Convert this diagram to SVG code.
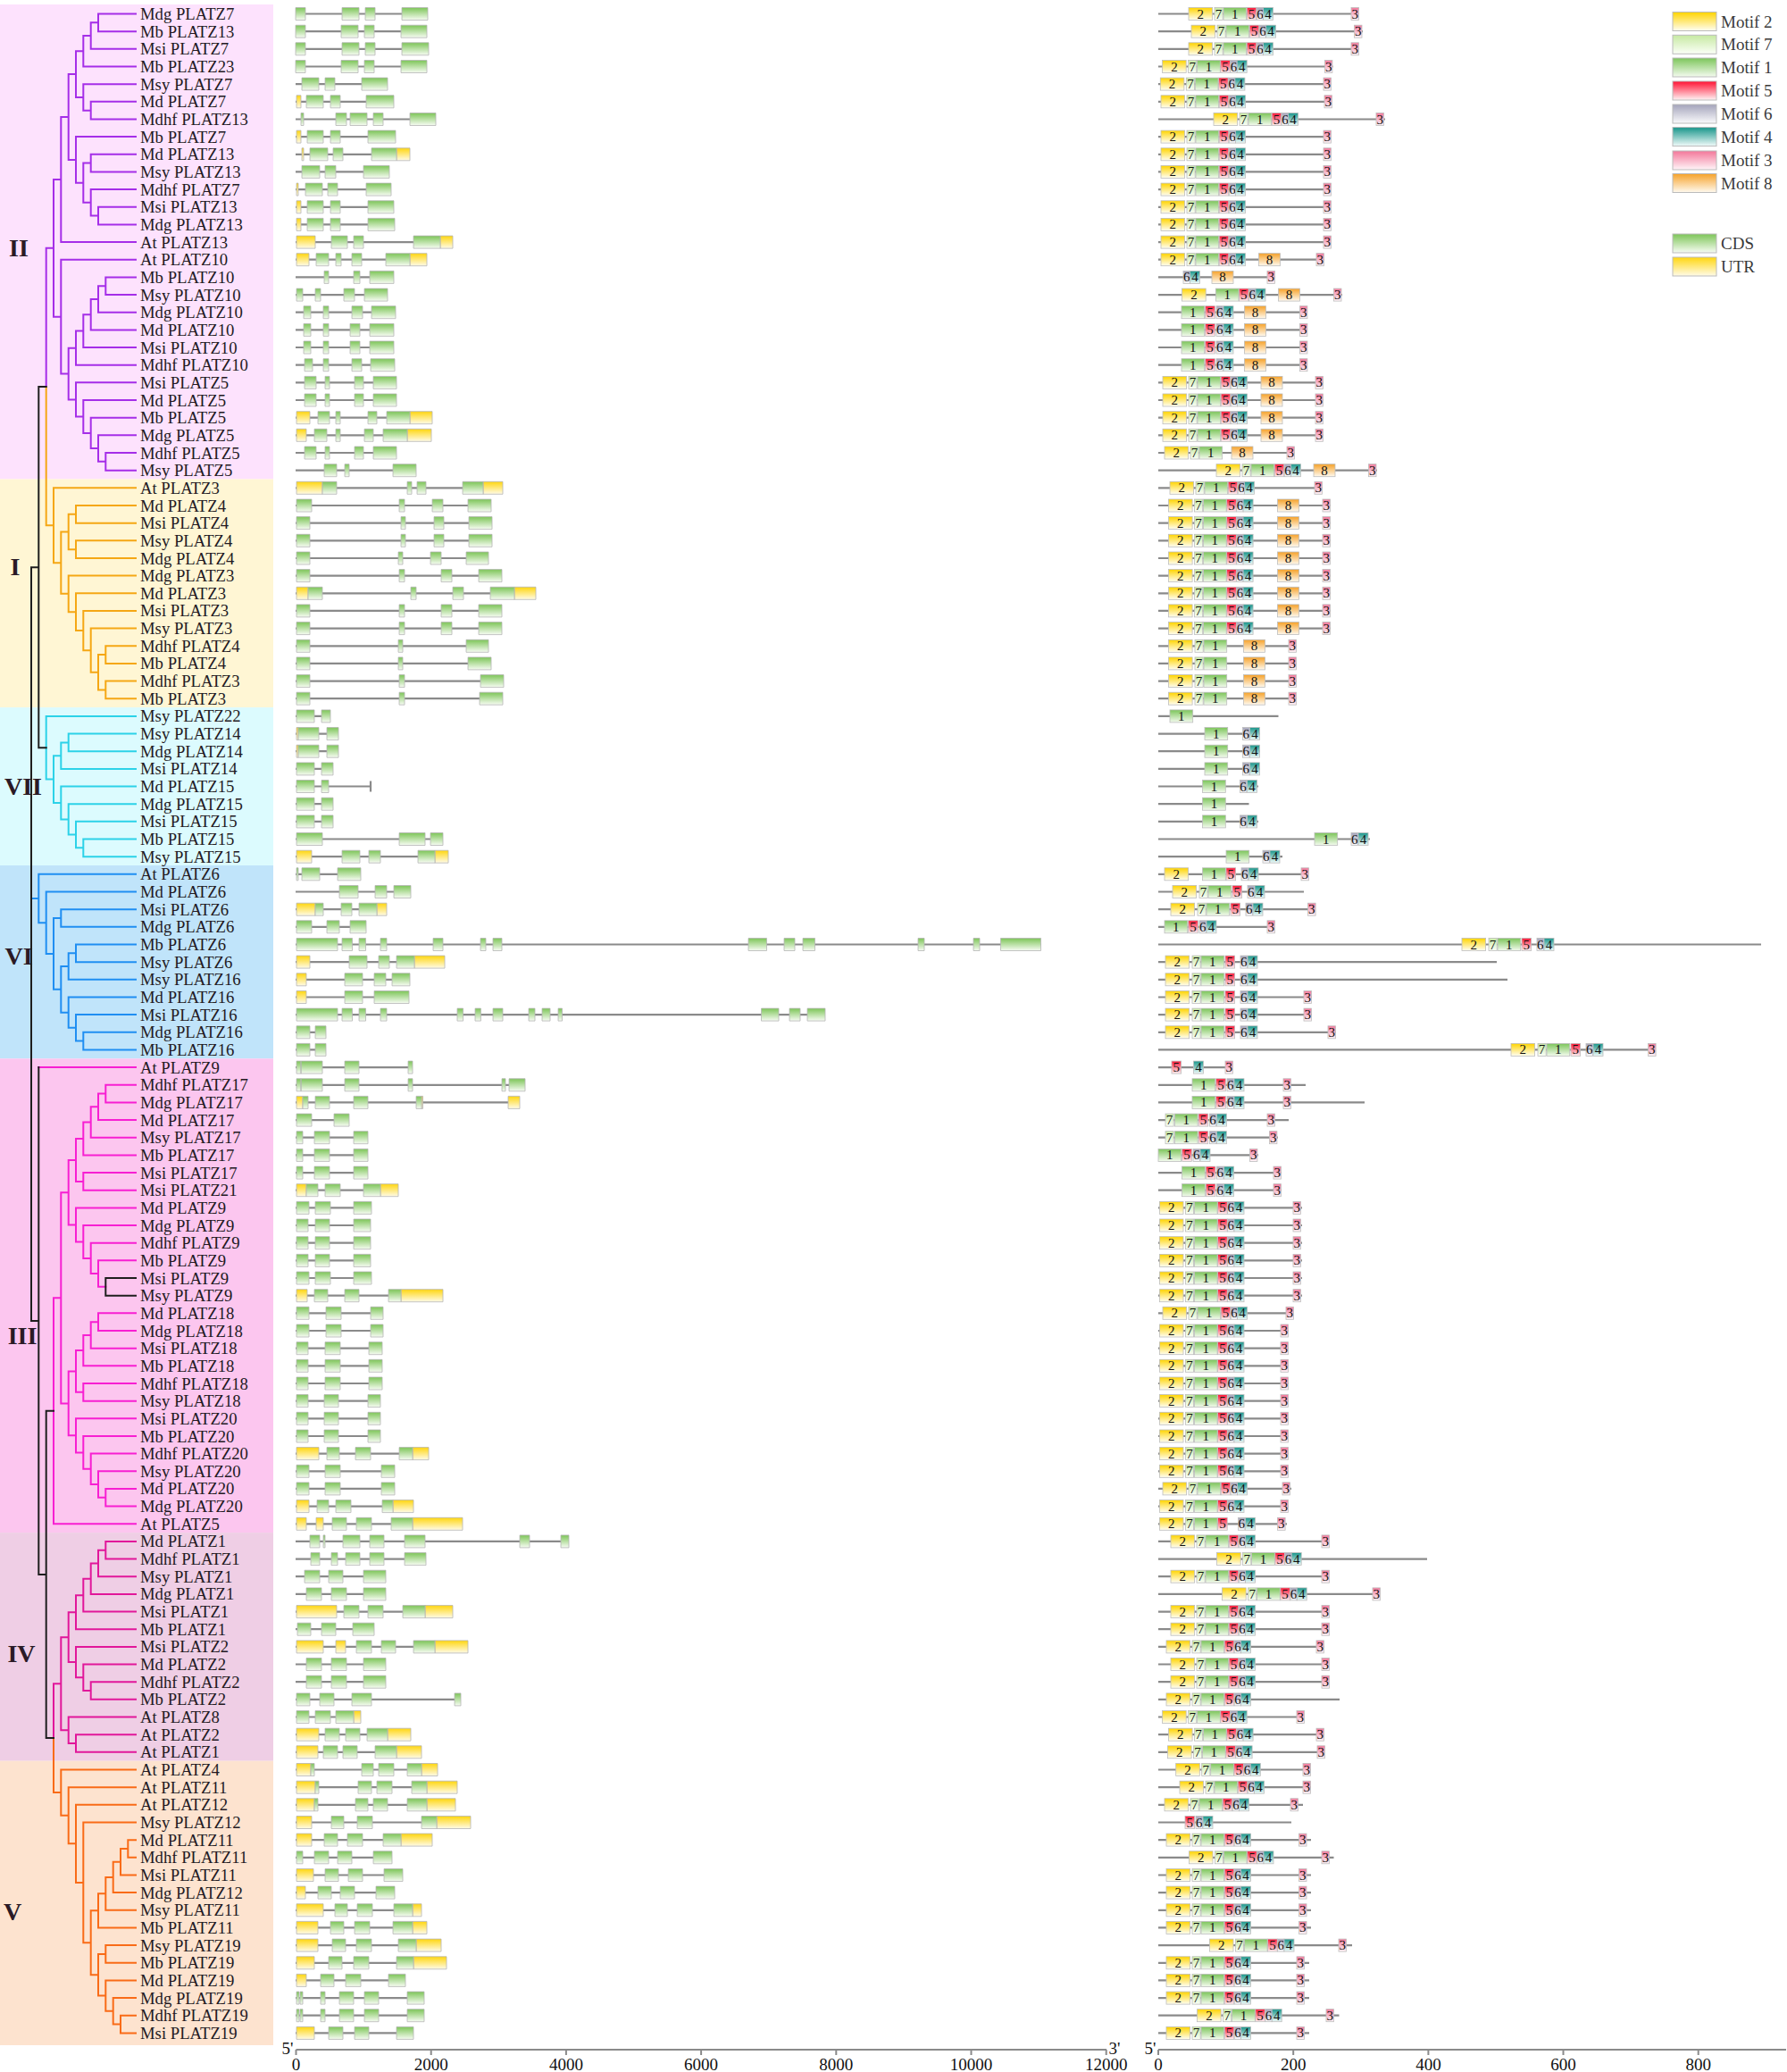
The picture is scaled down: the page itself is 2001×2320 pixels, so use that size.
<svg xmlns="http://www.w3.org/2000/svg" xmlns:xlink="http://www.w3.org/1999/xlink" width="2001" height="2320" viewBox="0 0 2001 2320">
<style>
.l{stroke:#8a8a8a;stroke-width:2.2;fill:none}
.c{fill:url(#gc);stroke:#b5b5b5;stroke-width:.8}
.u{fill:url(#gu);stroke:#b5b5b5;stroke-width:.8}
.k{stroke:#bdbdbd;stroke-width:.8}
.rows text{font-family:"Liberation Serif","Times New Roman",serif;font-size:18.7px;fill:#231a23}
text.mt{font-family:"Liberation Serif","Times New Roman",serif;font-size:15px;fill:#111;text-anchor:middle}
#tree path{fill:none;stroke-width:2;vector-effect:non-scaling-stroke;stroke-linecap:square}
.cl text{font-family:"Liberation Serif","Times New Roman",serif;font-size:28px;font-weight:bold;fill:#2a1a26;text-anchor:middle}
.ax text{font-family:"Liberation Serif","Times New Roman",serif;font-size:19px;fill:#111;text-anchor:middle}
.lg text{font-family:"Liberation Serif","Times New Roman",serif;font-size:19px;fill:#3a3a3a}
</style>
<defs>
<linearGradient id="gc" x2="0" y2="1"><stop offset="0" stop-color="#7dc558"/><stop offset="1" stop-color="#f7fcf3"/></linearGradient>
<linearGradient id="gu" x2="0" y2="1"><stop offset="0" stop-color="#ffd60f"/><stop offset="1" stop-color="#fffbe8"/></linearGradient>
<linearGradient id="k2" x2="0" y2="1"><stop offset="0" stop-color="#ffd400"/><stop offset="1" stop-color="#fffef4"/></linearGradient>
<linearGradient id="k7" x2="0" y2="1"><stop offset="0" stop-color="#c6e9a2"/><stop offset="1" stop-color="#fbfff7"/></linearGradient>
<linearGradient id="k1" x2="0" y2="1"><stop offset="0" stop-color="#7cc55a"/><stop offset="1" stop-color="#f4fbef"/></linearGradient>
<linearGradient id="k5" x2="0" y2="1"><stop offset="0" stop-color="#ff1233"/><stop offset="1" stop-color="#fff4f5"/></linearGradient>
<linearGradient id="k6" x2="0" y2="1"><stop offset="0" stop-color="#a4a4bb"/><stop offset="1" stop-color="#fafafc"/></linearGradient>
<linearGradient id="k4" x2="0" y2="1"><stop offset="0" stop-color="#17958a"/><stop offset="1" stop-color="#f1fbfa"/></linearGradient>
<linearGradient id="k3" x2="0" y2="1"><stop offset="0" stop-color="#f3779a"/><stop offset="1" stop-color="#fff5f8"/></linearGradient>
<linearGradient id="k8" x2="0" y2="1"><stop offset="0" stop-color="#f6a22a"/><stop offset="1" stop-color="#fffaf0"/></linearGradient>
<g id="M2"><rect class="k" fill="url(#k2)" y="-7" width="26.6" height="14"/><text class="mt" x="13.3" y="5">2</text></g>
<g id="M7"><rect class="k" fill="url(#k7)" y="-7" width="9.2" height="14"/><text class="mt" x="4.6" y="5">7</text></g>
<g id="M1"><rect class="k" fill="url(#k1)" y="-7" width="25.7" height="14"/><text class="mt" x="12.85" y="5">1</text></g>
<g id="M5"><rect class="k" fill="url(#k5)" y="-7" width="10.6" height="14"/><text class="mt" x="5.3" y="5">5</text></g>
<g id="M6"><rect class="k" fill="url(#k6)" y="-7" width="7.4" height="14"/><text class="mt" x="3.7" y="5">6</text></g>
<g id="M4"><rect class="k" fill="url(#k4)" y="-7" width="11" height="14"/><text class="mt" x="5.5" y="5">4</text></g>
<g id="M3"><rect class="k" fill="url(#k3)" y="-7" width="8.5" height="14"/><text class="mt" x="4.25" y="5">3</text></g>
<g id="M8"><rect class="k" fill="url(#k8)" y="-7" width="24" height="14"/><text class="mt" x="12" y="5">8</text></g>
<g id="S"><use href="#M2"/><use href="#M7" x="29"/><use href="#M1" x="39"/><use href="#M5" x="65.2"/><use href="#M6" x="76.2"/><use href="#M4" x="83.6"/></g>
<g id="S2"><use href="#M2"/><use href="#M7" x="30"/><use href="#M1" x="40"/><use href="#M5" x="67"/><use href="#M6" x="84"/><use href="#M4" x="92"/></g>
<g id="T"><use href="#M1"/><use href="#M5" x="26.7"/><use href="#M6" x="39"/><use href="#M4" x="47"/></g>
</defs>
<rect width="2001" height="2320" fill="#fff"/>
<g id="clades">
<rect x="0" y="5" width="306" height="531.5" fill="#fde2fd"/>
<rect x="0" y="536.5" width="306" height="255.6" fill="#fff6d4"/>
<rect x="0" y="792.1" width="306" height="176.9" fill="#dcfbfe"/>
<rect x="0" y="969" width="306" height="216.3" fill="#c0e4fa"/>
<rect x="0" y="1185.3" width="306" height="530.8" fill="#fcc6ef"/>
<rect x="0" y="1716.1" width="306" height="255.6" fill="#efcee5"/>
<rect x="0" y="1971.7" width="306" height="318.3" fill="#fde3cf"/>
</g>
<g class="cl" id="clade-labels">
<text x="21" y="287">II</text>
<text x="17" y="644">I</text>
<text x="26" y="890">VII</text>
<text x="21" y="1080">VI</text>
<text x="25" y="1505">III</text>
<text x="24" y="1861">IV</text>
<text x="14" y="2150">V</text>
</g>
<g id="tree" transform="matrix(1 0 0 19.66 0 15.5)">
<path stroke="#a52ee8" d="M110 0V1M110 0H152M110 1H152M101.7 .5V2M101.7 .5H110M101.7 2H152M93.3 1.25V3M93.3 1.25H101.7M93.3 3H152M101.7 5V6M101.7 5H152M101.7 6H152M93.3 4V5.5M93.3 4H152M93.3 5.5H101.7M85 2.125V4.75M85 2.125H93.3M85 4.75H93.3M101.7 8V9M101.7 8H152M101.7 9H152M110 11V12M110 11H152M110 12H152M101.7 10V11.5M101.7 10H152M101.7 11.5H110M93.3 8.5V10.75M93.3 8.5H101.7M93.3 10.75H101.7M85 7V9.625M85 7H152M85 9.625H93.3M76.7 3.4375V8.3125M76.7 3.4375H85M76.7 8.3125H85M68.3 5.875V13M68.3 5.875H76.7M68.3 13H152M118.3 15V16M118.3 15H152M118.3 16H152M110 15.5V17M110 15.5H118.3M110 17H152M101.7 16.25V18M101.7 16.25H110M101.7 18H152M93.3 17.125V19M93.3 17.125H101.7M93.3 19H152M85 18.0625V20M85 18.0625H93.3M85 20H152M118.3 25V26M118.3 25H152M118.3 26H152M110 24V25.5M110 24H152M110 25.5H118.3M101.7 23V24.75M101.7 23H152M101.7 24.75H110M93.3 22V23.875M93.3 22H152M93.3 23.875H101.7M85 21V22.9375M85 21H152M85 22.9375H93.3M76.7 19.03V21.97M76.7 19.03H85M76.7 21.97H85M68.3 14V20.5M68.3 14H152M68.3 20.5H76.7M60 9.4375V17.25M60 9.4375H68.3M60 17.25H68.3M51.7 13.344V21.238M51.7 13.344H60"/>
<path stroke="#f5a714" d="M85 28V29M85 28H152M85 29H152M85 30V31M85 30H152M85 31H152M76.7 28.5V30.5M76.7 28.5H85M76.7 30.5H85M118.3 36V37M118.3 36H152M118.3 37H152M118.3 38V39M118.3 38H152M118.3 39H152M110 36.5V38.5M110 36.5H118.3M110 38.5H118.3M101.7 35V37.5M101.7 35H152M101.7 37.5H110M93.3 34V36.25M93.3 34H152M93.3 36.25H101.7M85 33V35.125M85 33H152M85 35.125H93.3M76.7 32V34.0625M76.7 32H152M76.7 34.0625H85M68.3 29.5V33.03M68.3 29.5H76.7M68.3 33.03H76.7M60 27V31.266M60 27H152M60 31.266H68.3M51.7 21.238V29.133M51.7 29.133H60"/>
<path stroke="#2cd2e8" d="M76.7 41V42M76.7 41H152M76.7 42H152M68.3 41.5V43M68.3 41.5H76.7M68.3 43H152M93.3 47V48M93.3 47H152M93.3 48H152M85 46V47.5M85 46H152M85 47.5H93.3M76.7 45V46.75M76.7 45H152M76.7 46.75H85M68.3 44V45.875M68.3 44H152M68.3 45.875H76.7M60 42.25V44.94M60 42.25H68.3M60 44.94H68.3M51.7 40V43.594M51.7 40H152M51.7 43.594H60"/>
<path stroke="#1f8ef2" d="M85 53V54M85 53H152M85 54H152M76.7 53.5V55M76.7 53.5H85M76.7 55H152M93.3 58V59M93.3 58H152M93.3 59H152M85 57V58.5M85 57H152M85 58.5H93.3M76.7 56V57.75M76.7 56H152M76.7 57.75H85M68.3 54.25V56.875M68.3 54.25H76.7M68.3 56.875H76.7M68.3 51V52M68.3 51H152M68.3 52H152M60 51.5V55.5625M60 51.5H68.3M60 55.5625H68.3M51.7 50V53.53M51.7 50H152M51.7 53.53H60M43.3 49V51.766M43.3 49H152M43.3 51.766H51.7M35 50.383H43.3"/>
<path stroke="#f71fd2" d="M43.3 60H152M118.3 61V62M118.3 61H152M118.3 62H152M110 61.5V63M110 61.5H118.3M110 63H152M101.7 62.25V64M101.7 62.25H110M101.7 64H152M93.3 63.125V65M93.3 63.125H101.7M93.3 65H152M93.3 66V67M93.3 66H152M93.3 67H152M85 64.0625V66.5M85 64.0625H93.3M85 66.5H93.3M110 71V72.5M110 71H152M110 72.5H118.3M101.7 70V71.75M101.7 70H152M101.7 71.75H110M93.3 69V70.875M93.3 69H152M93.3 70.875H101.7M85 68V69.9375M85 68H152M85 69.9375H93.3M76.7 65.28V68.97M76.7 65.28H85M76.7 68.97H85M110 74V75M110 74H152M110 75H152M101.7 74.5V76M101.7 74.5H110M101.7 76H152M93.3 75.25V77M93.3 75.25H101.7M93.3 77H152M93.3 78V79M93.3 78H152M93.3 79H152M85 76.125V78.5M85 76.125H93.3M85 78.5H93.3M118.3 84V85M118.3 84H152M118.3 85H152M110 83V84.5M110 83H152M110 84.5H118.3M101.7 82V83.75M101.7 82H152M101.7 83.75H110M93.3 81V82.875M93.3 81H152M93.3 82.875H101.7M85 80V81.9375M85 80H152M85 81.9375H93.3M76.7 77.3125V80.97M76.7 77.3125H85M76.7 80.97H85M68.3 67.125V79.14M68.3 67.125H76.7M68.3 79.14H76.7M60 73.133V86M60 73.133H68.3M60 86H152"/>
<path stroke="#e1179a" d="M118.3 87V88M118.3 87H152M118.3 88H152M110 87.5V89M110 87.5H118.3M110 89H152M101.7 88.25V90M101.7 88.25H110M101.7 90H152M93.3 89.125V91M93.3 89.125H101.7M93.3 91H152M85 90.0625V92M85 90.0625H93.3M85 92H152M101.7 95V96M101.7 95H152M101.7 96H152M93.3 94V95.5M93.3 94H152M93.3 95.5H101.7M85 93V94.75M85 93H152M85 94.75H93.3M76.7 91.03V93.875M76.7 91.03H85M76.7 93.875H85M85 98V99M85 98H152M85 99H152M76.7 97V98.5M76.7 97H152M76.7 98.5H85M68.3 92.453V97.75M68.3 92.453H76.7M68.3 97.75H76.7M60 95.1V98.2M60 95.1H68.3"/>
<path stroke="#f96b17" d="M143.3 104V105M143.3 104H152M143.3 105H152M135 104.5V106M135 104.5H143.3M135 106H152M126.7 105.25V107M126.7 105.25H135M126.7 107H152M118.3 106.125V108M118.3 106.125H126.7M118.3 108H152M110 107.0625V109M110 107.0625H118.3M110 109H152M118.3 110V111M118.3 110H152M118.3 111H152M135 114V115M135 114H152M135 115H152M126.7 113V114.5M126.7 113H152M126.7 114.5H135M118.3 112V113.75M118.3 112H152M118.3 113.75H126.7M110 110.5V112.875M110 110.5H118.3M110 112.875H118.3M101.7 108.03V111.69M101.7 108.03H110M101.7 111.69H110M93.3 103V109.86M93.3 103H152M93.3 109.86H101.7M85 102V106.43M85 102H152M85 106.43H93.3M76.7 101V104.215M76.7 101H152M76.7 104.215H85M68.3 100V102.607M68.3 100H152M68.3 102.607H76.7M60 98.2V101.3M60 101.3H68.3"/>
<path stroke="#1e1e1e" d="M118.3 72V73M118.3 72H152M118.3 73H152M35 31.518V74.44M35 31.518H43.3M43.3 21.238V41.797M43.3 21.238H51.7M43.3 41.797H51.7M35 74.44H43.3M43.3 60V88.883M43.3 88.883H51.7M51.7 79.566V98.2M51.7 79.566H60M51.7 98.2H60"/>
</g>
<g class="rows" id="genes">
<g id="MdgPLATZ7" transform="translate(0,15.5)"><text x="157" y="6.5">Mdg PLATZ7</text><path class="l" d="M331 0H479M1297 0H1522"/><path class="c" d="M331-7h11v14h-11zM383-7h19v14h-19zM409-7h11v14h-11zM450-7h29v14h-29z"/><use href="#S" x="1331"/><use href="#M3" x="1513"/></g>
<g id="MbPLATZ13" transform="translate(0,35.2)"><text x="157" y="6.5">Mb PLATZ13</text><path class="l" d="M331 0H478M1297 0H1526"/><path class="c" d="M331-7h11v14h-11zM382-7h19v14h-19zM408-7h11v14h-11zM449-7h29v14h-29z"/><use href="#S" x="1334"/><use href="#M3" x="1516.5"/></g>
<g id="MsiPLATZ7" transform="translate(0,54.8)"><text x="157" y="6.5">Msi PLATZ7</text><path class="l" d="M331 0H480M1297 0H1522"/><path class="c" d="M331-7h11v14h-11zM383-7h19v14h-19zM409-7h11v14h-11zM450-7h30v14h-30z"/><use href="#S" x="1331"/><use href="#M3" x="1513"/></g>
<g id="MbPLATZ23" transform="translate(0,74.5)"><text x="157" y="6.5">Mb PLATZ23</text><path class="l" d="M331 0H478M1297 0H1492.6"/><path class="c" d="M331-7h11v14h-11zM382-7h19v14h-19zM408-7h11v14h-11zM449-7h29v14h-29z"/><use href="#S" x="1301.6"/><use href="#M3" x="1483.4"/></g>
<g id="MsyPLATZ7" transform="translate(0,94.1)"><text x="157" y="6.5">Msy PLATZ7</text><path class="l" d="M331 0H434M1297 0H1490.3"/><path class="c" d="M338-7h19v14h-19zM364-7h11v14h-11zM405-7h29v14h-29z"/><use href="#S" x="1299.3"/><use href="#M3" x="1482"/></g>
<g id="MdPLATZ7" transform="translate(0,113.8)"><text x="157" y="6.5">Md PLATZ7</text><path class="l" d="M331 0H441M1297 0H1491"/><path class="u" d="M332-7h5v14h-5z"/><path class="c" d="M343-7h19v14h-19zM370-7h11v14h-11zM410-7h31v14h-31z"/><use href="#S" x="1300"/><use href="#M3" x="1483"/></g>
<g id="MdhfPLATZ13" transform="translate(0,133.5)"><text x="157" y="6.5">Mdhf PLATZ13</text><path class="l" d="M331 0H488M1297 0H1551"/><path class="c" d="M337-7h3v14h-3zM376-7h12v14h-12zM392-7h19v14h-19zM418-7h11v14h-11zM459-7h29v14h-29z"/><use href="#S" x="1359"/><use href="#M3" x="1541"/></g>
<g id="MbPLATZ7" transform="translate(0,153.1)"><text x="157" y="6.5">Mb PLATZ7</text><path class="l" d="M331 0H443M1297 0H1490"/><path class="u" d="M332-7h5v14h-5z"/><path class="c" d="M344-7h18v14h-18zM370-7h11v14h-11zM412-7h31v14h-31z"/><use href="#S" x="1300"/><use href="#M3" x="1482"/></g>
<g id="MdPLATZ13" transform="translate(0,172.8)"><text x="157" y="6.5">Md PLATZ13</text><path class="l" d="M331 0H459M1297 0H1490"/><path class="u" d="M338-7h2v14h-2zM444-7h15v14h-15z"/><path class="c" d="M347-7h20v14h-20zM373-7h11v14h-11zM416-7h28v14h-28z"/><use href="#S" x="1300"/><use href="#M3" x="1482"/></g>
<g id="MsyPLATZ13" transform="translate(0,192.4)"><text x="157" y="6.5">Msy PLATZ13</text><path class="l" d="M331 0H436M1297 0H1490"/><path class="c" d="M338-7h20v14h-20zM364-7h12v14h-12zM407-7h29v14h-29z"/><use href="#S" x="1300"/><use href="#M3" x="1482"/></g>
<g id="MdhfPLATZ7" transform="translate(0,212.1)"><text x="157" y="6.5">Mdhf PLATZ7</text><path class="l" d="M331 0H438M1297 0H1490"/><path class="u" d="M332-7h2v14h-2z"/><path class="c" d="M342-7h19v14h-19zM367-7h11v14h-11zM410-7h28v14h-28z"/><use href="#S" x="1300"/><use href="#M3" x="1482"/></g>
<g id="MsiPLATZ13" transform="translate(0,231.8)"><text x="157" y="6.5">Msi PLATZ13</text><path class="l" d="M331 0H441M1297 0H1490"/><path class="u" d="M332-7h5v14h-5z"/><path class="c" d="M344-7h18v14h-18zM370-7h11v14h-11zM412-7h29v14h-29z"/><use href="#S" x="1300"/><use href="#M3" x="1482"/></g>
<g id="MdgPLATZ13" transform="translate(0,251.4)"><text x="157" y="6.5">Mdg PLATZ13</text><path class="l" d="M331 0H442M1297 0H1490"/><path class="u" d="M332-7h5v14h-5z"/><path class="c" d="M344-7h18v14h-18zM370-7h11v14h-11zM412-7h30v14h-30z"/><use href="#S" x="1300"/><use href="#M3" x="1482"/></g>
<g id="AtPLATZ13" transform="translate(0,271.1)"><text x="157" y="6.5">At PLATZ13</text><path class="l" d="M331 0H507M1297 0H1490"/><path class="u" d="M332-7h21v14h-21zM493-7h14v14h-14z"/><path class="c" d="M371-7h18v14h-18zM396-7h11v14h-11zM463-7h30v14h-30z"/><use href="#S" x="1300"/><use href="#M3" x="1482"/></g>
<g id="AtPLATZ10" transform="translate(0,290.7)"><text x="157" y="6.5">At PLATZ10</text><path class="l" d="M331 0H478M1297 0H1483"/><path class="u" d="M332-7h14v14h-14zM459-7h19v14h-19z"/><path class="c" d="M354-7h14v14h-14zM376-7h6v14h-6zM394-7h11v14h-11zM432-7h27v14h-27z"/><use href="#S" x="1300"/><use href="#M8" x="1409.5"/><use href="#M3" x="1474"/></g>
<g id="MbPLATZ10" transform="translate(0,310.4)"><text x="157" y="6.5">Mb PLATZ10</text><path class="l" d="M331 0H441M1297 0H1428"/><path class="c" d="M363-7h5v14h-5zM396-7h7v14h-7zM414-7h27v14h-27z"/><use href="#M6" x="1325"/><use href="#M4" x="1332.4"/><use href="#M8" x="1357"/><use href="#M3" x="1419"/></g>
<g id="MsyPLATZ10" transform="translate(0,330.1)"><text x="157" y="6.5">Msy PLATZ10</text><path class="l" d="M331 0H434M1297 0H1503"/><path class="c" d="M332-7h7v14h-7zM353-7h6v14h-6zM385-7h12v14h-12zM408-7h26v14h-26z"/><use href="#M2" x="1323.6"/><use href="#M1" x="1361.3"/><use href="#M5" x="1387.4"/><use href="#M6" x="1398.5"/><use href="#M4" x="1406"/><use href="#M8" x="1431.5"/><use href="#M3" x="1493.5"/></g>
<g id="MdgPLATZ10" transform="translate(0,349.7)"><text x="157" y="6.5">Mdg PLATZ10</text><path class="l" d="M331 0H443M1297 0H1464"/><path class="c" d="M340-7h8v14h-8zM362-7h6v14h-6zM394-7h12v14h-12zM416-7h27v14h-27z"/><use href="#T" x="1323"/><use href="#M8" x="1393.4"/><use href="#M3" x="1455.4"/></g>
<g id="MdPLATZ10" transform="translate(0,369.4)"><text x="157" y="6.5">Md PLATZ10</text><path class="l" d="M331 0H441M1297 0H1464"/><path class="c" d="M340-7h8v14h-8zM362-7h6v14h-6zM392-7h11v14h-11zM414-7h27v14h-27z"/><use href="#T" x="1323"/><use href="#M8" x="1393.4"/><use href="#M3" x="1455.4"/></g>
<g id="MsiPLATZ10" transform="translate(0,389)"><text x="157" y="6.5">Msi PLATZ10</text><path class="l" d="M331 0H441M1297 0H1464"/><path class="c" d="M340-7h8v14h-8zM362-7h6v14h-6zM392-7h11v14h-11zM414-7h27v14h-27z"/><use href="#T" x="1323"/><use href="#M8" x="1393.4"/><use href="#M3" x="1455.4"/></g>
<g id="MdhfPLATZ10" transform="translate(0,408.7)"><text x="157" y="6.5">Mdhf PLATZ10</text><path class="l" d="M331 0H442M1297 0H1464"/><path class="c" d="M341-7h9v14h-9zM362-7h6v14h-6zM394-7h11v14h-11zM415-7h27v14h-27z"/><use href="#T" x="1323"/><use href="#M8" x="1393.4"/><use href="#M3" x="1455.4"/></g>
<g id="MsiPLATZ5" transform="translate(0,428.4)"><text x="157" y="6.5">Msi PLATZ5</text><path class="l" d="M331 0H444M1297 0H1482"/><path class="c" d="M341-7h13v14h-13zM364-7h5v14h-5zM397-7h10v14h-10zM418-7h26v14h-26z"/><use href="#S" x="1302"/><use href="#M8" x="1412"/><use href="#M3" x="1473"/></g>
<g id="MdPLATZ5" transform="translate(0,448)"><text x="157" y="6.5">Md PLATZ5</text><path class="l" d="M331 0H444M1297 0H1482"/><path class="c" d="M341-7h13v14h-13zM364-7h5v14h-5zM397-7h10v14h-10zM418-7h26v14h-26z"/><use href="#S" x="1302"/><use href="#M8" x="1412"/><use href="#M3" x="1473"/></g>
<g id="MbPLATZ5" transform="translate(0,467.7)"><text x="157" y="6.5">Mb PLATZ5</text><path class="l" d="M331 0H484M1297 0H1482"/><path class="u" d="M332-7h15v14h-15zM459-7h25v14h-25z"/><path class="c" d="M356-7h13v14h-13zM376-7h5v14h-5zM412-7h10v14h-10zM433-7h26v14h-26z"/><use href="#S" x="1302"/><use href="#M8" x="1412"/><use href="#M3" x="1473"/></g>
<g id="MdgPLATZ5" transform="translate(0,487.3)"><text x="157" y="6.5">Mdg PLATZ5</text><path class="l" d="M331 0H483M1297 0H1482"/><path class="u" d="M332-7h11v14h-11zM456-7h27v14h-27z"/><path class="c" d="M352-7h14v14h-14zM376-7h5v14h-5zM408-7h10v14h-10zM429-7h27v14h-27z"/><use href="#S" x="1302"/><use href="#M8" x="1412"/><use href="#M3" x="1473"/></g>
<g id="MdhfPLATZ5" transform="translate(0,507)"><text x="157" y="6.5">Mdhf PLATZ5</text><path class="l" d="M331 0H444M1297 0H1450"/><path class="c" d="M341-7h13v14h-13zM364-7h5v14h-5zM397-7h10v14h-10zM418-7h26v14h-26z"/><use href="#M2" x="1304"/><use href="#M7" x="1333"/><use href="#M1" x="1343"/><use href="#M8" x="1379"/><use href="#M3" x="1441"/></g>
<g id="MsyPLATZ5" transform="translate(0,526.7)"><text x="157" y="6.5">Msy PLATZ5</text><path class="l" d="M331 0H466M1297 0H1542"/><path class="c" d="M363-7h14v14h-14zM386-7h5v14h-5zM440-7h26v14h-26z"/><use href="#S" x="1362"/><use href="#M8" x="1471"/><use href="#M3" x="1532.5"/></g>
<g id="AtPLATZ3" transform="translate(0,546.3)"><text x="157" y="6.5">At PLATZ3</text><path class="l" d="M331 0H563M1297 0H1481"/><path class="u" d="M332-7h29v14h-29zM541-7h22v14h-22z"/><path class="c" d="M361-7h16v14h-16zM456-7h5v14h-5zM467-7h10v14h-10zM518-7h23v14h-23z"/><use href="#S" x="1310"/><use href="#M3" x="1472"/></g>
<g id="MdPLATZ4" transform="translate(0,566)"><text x="157" y="6.5">Md PLATZ4</text><path class="l" d="M331 0H550M1297 0H1490"/><path class="c" d="M332-7h17v14h-17zM447-7h6v14h-6zM484-7h12v14h-12zM524-7h26v14h-26z"/><use href="#S" x="1308.5"/><use href="#M8" x="1430.6"/><use href="#M3" x="1481"/></g>
<g id="MsiPLATZ4" transform="translate(0,585.6)"><text x="157" y="6.5">Msi PLATZ4</text><path class="l" d="M331 0H551M1297 0H1490"/><path class="c" d="M332-7h15v14h-15zM449-7h5v14h-5zM486-7h11v14h-11zM525-7h26v14h-26z"/><use href="#S" x="1308.5"/><use href="#M8" x="1430.6"/><use href="#M3" x="1481"/></g>
<g id="MsyPLATZ4" transform="translate(0,605.3)"><text x="157" y="6.5">Msy PLATZ4</text><path class="l" d="M331 0H551M1297 0H1490"/><path class="c" d="M332-7h15v14h-15zM449-7h5v14h-5zM486-7h11v14h-11zM525-7h26v14h-26z"/><use href="#S" x="1308.5"/><use href="#M8" x="1430.6"/><use href="#M3" x="1481"/></g>
<g id="MdgPLATZ4" transform="translate(0,625)"><text x="157" y="6.5">Mdg PLATZ4</text><path class="l" d="M331 0H547M1297 0H1490"/><path class="c" d="M332-7h15v14h-15zM446-7h5v14h-5zM482-7h12v14h-12zM522-7h25v14h-25z"/><use href="#S" x="1308.5"/><use href="#M8" x="1430.6"/><use href="#M3" x="1481"/></g>
<g id="MdgPLATZ3" transform="translate(0,644.6)"><text x="157" y="6.5">Mdg PLATZ3</text><path class="l" d="M331 0H562M1297 0H1490"/><path class="c" d="M332-7h15v14h-15zM447-7h6v14h-6zM494-7h12v14h-12zM536-7h26v14h-26z"/><use href="#S" x="1308.5"/><use href="#M8" x="1430.6"/><use href="#M3" x="1481"/></g>
<g id="MdPLATZ3" transform="translate(0,664.3)"><text x="157" y="6.5">Md PLATZ3</text><path class="l" d="M331 0H600M1297 0H1490"/><path class="u" d="M332-7h13v14h-13zM576-7h24v14h-24z"/><path class="c" d="M345-7h16v14h-16zM460-7h6v14h-6zM507-7h12v14h-12zM549-7h27v14h-27z"/><use href="#S" x="1308.5"/><use href="#M8" x="1430.6"/><use href="#M3" x="1481"/></g>
<g id="MsiPLATZ3" transform="translate(0,683.9)"><text x="157" y="6.5">Msi PLATZ3</text><path class="l" d="M331 0H562M1297 0H1490"/><path class="c" d="M332-7h15v14h-15zM447-7h6v14h-6zM494-7h12v14h-12zM536-7h26v14h-26z"/><use href="#S" x="1308.5"/><use href="#M8" x="1430.6"/><use href="#M3" x="1481"/></g>
<g id="MsyPLATZ3" transform="translate(0,703.6)"><text x="157" y="6.5">Msy PLATZ3</text><path class="l" d="M331 0H562M1297 0H1490"/><path class="c" d="M332-7h15v14h-15zM447-7h6v14h-6zM494-7h12v14h-12zM536-7h26v14h-26z"/><use href="#S" x="1308.5"/><use href="#M8" x="1430.6"/><use href="#M3" x="1481"/></g>
<g id="MdhfPLATZ4" transform="translate(0,723.3)"><text x="157" y="6.5">Mdhf PLATZ4</text><path class="l" d="M331 0H547M1297 0H1452"/><path class="c" d="M332-7h15v14h-15zM446-7h5v14h-5zM522-7h25v14h-25z"/><use href="#M2" x="1308.5"/><use href="#M7" x="1338"/><use href="#M1" x="1348"/><use href="#M8" x="1392.5"/><use href="#M3" x="1443"/></g>
<g id="MbPLATZ4" transform="translate(0,742.9)"><text x="157" y="6.5">Mb PLATZ4</text><path class="l" d="M331 0H550M1297 0H1452"/><path class="c" d="M332-7h15v14h-15zM446-7h5v14h-5zM524-7h26v14h-26z"/><use href="#M2" x="1308.5"/><use href="#M7" x="1338"/><use href="#M1" x="1348"/><use href="#M8" x="1392.5"/><use href="#M3" x="1443"/></g>
<g id="MdhfPLATZ3" transform="translate(0,762.6)"><text x="157" y="6.5">Mdhf PLATZ3</text><path class="l" d="M331 0H564M1297 0H1452"/><path class="c" d="M332-7h15v14h-15zM447-7h6v14h-6zM538-7h26v14h-26z"/><use href="#M2" x="1308.5"/><use href="#M7" x="1338"/><use href="#M1" x="1348"/><use href="#M8" x="1392.5"/><use href="#M3" x="1443"/></g>
<g id="MbPLATZ3" transform="translate(0,782.2)"><text x="157" y="6.5">Mb PLATZ3</text><path class="l" d="M331 0H563M1297 0H1452"/><path class="c" d="M332-7h15v14h-15zM447-7h6v14h-6zM537-7h26v14h-26z"/><use href="#M2" x="1308.5"/><use href="#M7" x="1338"/><use href="#M1" x="1348"/><use href="#M8" x="1392.5"/><use href="#M3" x="1443"/></g>
<g id="MsyPLATZ22" transform="translate(0,801.9)"><text x="157" y="6.5">Msy PLATZ22</text><path class="l" d="M331 0H370M1297 0H1431.5"/><path class="c" d="M332-7h20v14h-20zM360-7h10v14h-10z"/><use href="#M1" x="1310"/></g>
<g id="MsyPLATZ14" transform="translate(0,821.6)"><text x="157" y="6.5">Msy PLATZ14</text><path class="l" d="M331 0H379M1297 0H1411"/><path class="u" d="M332-7h2v14h-2z"/><path class="c" d="M334-7h23v14h-23zM366-7h13v14h-13z"/><use href="#M1" x="1349"/><use href="#M6" x="1391.6"/><use href="#M4" x="1399.5"/></g>
<g id="MdgPLATZ14" transform="translate(0,841.2)"><text x="157" y="6.5">Mdg PLATZ14</text><path class="l" d="M331 0H379M1297 0H1411"/><path class="u" d="M332-7h2v14h-2z"/><path class="c" d="M334-7h23v14h-23zM366-7h13v14h-13z"/><use href="#M1" x="1349"/><use href="#M6" x="1391.6"/><use href="#M4" x="1399.5"/></g>
<g id="MsiPLATZ14" transform="translate(0,860.9)"><text x="157" y="6.5">Msi PLATZ14</text><path class="l" d="M331 0H373M1297 0H1411"/><path class="c" d="M332-7h20v14h-20zM360-7h13v14h-13z"/><use href="#M1" x="1349"/><use href="#M6" x="1391.6"/><use href="#M4" x="1399.5"/></g>
<g id="MdPLATZ15" transform="translate(0,880.5)"><text x="157" y="6.5">Md PLATZ15</text><path class="l" d="M331 0H415M415-6V6M1297 0H1409"/><path class="c" d="M332-7h20v14h-20zM360-7h8v14h-8z"/><use href="#M1" x="1346.6"/><use href="#M6" x="1388.4"/><use href="#M4" x="1396.5"/></g>
<g id="MdgPLATZ15" transform="translate(0,900.2)"><text x="157" y="6.5">Mdg PLATZ15</text><path class="l" d="M331 0H373M1297 0H1398.5"/><path class="c" d="M332-7h20v14h-20zM360-7h13v14h-13z"/><use href="#M1" x="1346.6"/></g>
<g id="MsiPLATZ15" transform="translate(0,919.9)"><text x="157" y="6.5">Msi PLATZ15</text><path class="l" d="M331 0H373M1297 0H1409"/><path class="c" d="M332-7h20v14h-20zM360-7h13v14h-13z"/><use href="#M1" x="1346.6"/><use href="#M6" x="1388.4"/><use href="#M4" x="1396.5"/></g>
<g id="MbPLATZ15" transform="translate(0,939.5)"><text x="157" y="6.5">Mb PLATZ15</text><path class="l" d="M331 0H496M1297 0H1534"/><path class="c" d="M332-7h29v14h-29zM447-7h29v14h-29zM482-7h14v14h-14z"/><use href="#M1" x="1472"/><use href="#M6" x="1513"/><use href="#M4" x="1521"/></g>
<g id="MsyPLATZ15" transform="translate(0,959.2)"><text x="157" y="6.5">Msy PLATZ15</text><path class="l" d="M331 0H502M1297 0H1436"/><path class="u" d="M332-7h17v14h-17zM487-7h15v14h-15z"/><path class="c" d="M383-7h20v14h-20zM413-7h13v14h-13zM468-7h19v14h-19z"/><use href="#M1" x="1373"/><use href="#M6" x="1414"/><use href="#M4" x="1422"/></g>
<g id="AtPLATZ6" transform="translate(0,978.8)"><text x="157" y="6.5">At PLATZ6</text><path class="l" d="M331 0H404M1297 0H1465"/><path class="c" d="M332-7h2v14h-2zM338-7h20v14h-20zM378-7h26v14h-26z"/><use href="#M2" x="1304"/><use href="#M1" x="1346.6"/><use href="#M5" x="1373"/><use href="#M6" x="1390"/><use href="#M4" x="1398"/><use href="#M3" x="1457"/></g>
<g id="MdPLATZ6" transform="translate(0,998.5)"><text x="157" y="6.5">Md PLATZ6</text><path class="l" d="M331 0H460M1297 0H1460"/><path class="c" d="M380-7h21v14h-21zM420-7h13v14h-13zM441-7h19v14h-19z"/><use href="#S2" x="1313"/></g>
<g id="MsiPLATZ6" transform="translate(0,1018.2)"><text x="157" y="6.5">Msi PLATZ6</text><path class="l" d="M331 0H433M1297 0H1473"/><path class="u" d="M332-7h21v14h-21zM422-7h11v14h-11z"/><path class="c" d="M353-7h9v14h-9zM382-7h12v14h-12zM402-7h20v14h-20z"/><use href="#S2" x="1311"/><use href="#M3" x="1464.6"/></g>
<g id="MdgPLATZ6" transform="translate(0,1037.8)"><text x="157" y="6.5">Mdg PLATZ6</text><path class="l" d="M331 0H410M1297 0H1427"/><path class="c" d="M332-7h17v14h-17zM366-7h14v14h-14zM392-7h18v14h-18z"/><use href="#T" x="1304"/><use href="#M3" x="1419"/></g>
<g id="MbPLATZ6" transform="translate(0,1057.5)"><text x="157" y="6.5">Mb PLATZ6</text><path class="l" d="M331 0H1165.5M1297 0H1972"/><path class="c" d="M332-7h46v14h-46zM383-7h11.5v14h-11.5zM402-7h7.5v14h-7.5zM426-7h7v14h-7zM485-7h11v14h-11zM538-7h6v14h-6zM552-7h10v14h-10zM838-7h20.5v14h-20.5zM878-7h12v14h-12zM899-7h13.5v14h-13.5zM1028-7h7v14h-7zM1090-7h7v14h-7zM1120.5-7h45v14h-45z"/><use href="#S2" x="1637"/></g>
<g id="MsyPLATZ6" transform="translate(0,1077.1)"><text x="157" y="6.5">Msy PLATZ6</text><path class="l" d="M331 0H498M1297 0H1676"/><path class="u" d="M332-7h15v14h-15zM464-7h34v14h-34z"/><path class="c" d="M391-7h20v14h-20zM424-7h12v14h-12zM444-7h20v14h-20z"/><use href="#S2" x="1305"/></g>
<g id="MsyPLATZ16" transform="translate(0,1096.8)"><text x="157" y="6.5">Msy PLATZ16</text><path class="l" d="M331 0H459M1297 0H1688"/><path class="u" d="M332-7h11v14h-11z"/><path class="c" d="M386-7h20v14h-20zM419-7h13v14h-13zM439-7h20v14h-20z"/><use href="#S2" x="1305"/></g>
<g id="MdPLATZ16" transform="translate(0,1116.5)"><text x="157" y="6.5">Md PLATZ16</text><path class="l" d="M331 0H458M1297 0H1469"/><path class="u" d="M332-7h11v14h-11z"/><path class="c" d="M386-7h20v14h-20zM419-7h39v14h-39z"/><use href="#S2" x="1305"/><use href="#M3" x="1460"/></g>
<g id="MsiPLATZ16" transform="translate(0,1136.1)"><text x="157" y="6.5">Msi PLATZ16</text><path class="l" d="M331 0H924M1297 0H1469"/><path class="c" d="M332-7h46v14h-46zM383-7h11.5v14h-11.5zM402-7h7.5v14h-7.5zM426-7h7v14h-7zM512-7h6.6v14h-6.6zM532-7h6.4v14h-6.4zM552-7h11v14h-11zM592-7h7v14h-7zM607-7h9v14h-9zM625-7h4.5v14h-4.5zM852.5-7h19.5v14h-19.5zM884-7h12v14h-12zM904-7h20v14h-20z"/><use href="#S2" x="1305"/><use href="#M3" x="1460"/></g>
<g id="MdgPLATZ16" transform="translate(0,1155.8)"><text x="157" y="6.5">Mdg PLATZ16</text><path class="l" d="M331 0H365M1297 0H1496"/><path class="c" d="M332-7h15v14h-15zM353-7h12v14h-12z"/><use href="#S2" x="1305"/><use href="#M3" x="1487"/></g>
<g id="MbPLATZ16" transform="translate(0,1175.4)"><text x="157" y="6.5">Mb PLATZ16</text><path class="l" d="M331 0H365M1297 0H1854"/><path class="c" d="M332-7h15v14h-15zM353-7h12v14h-12z"/><use href="#S2" x="1692"/><use href="#M3" x="1845.6"/></g>
<g id="AtPLATZ9" transform="translate(0,1195.1)"><text x="157" y="6.5">At PLATZ9</text><path class="l" d="M331 0H462M1297 0H1380"/><path class="c" d="M332-7h5v14h-5zM337-7h24v14h-24zM386-7h16v14h-16zM457-7h5v14h-5z"/><use href="#M5" x="1312"/><use href="#M4" x="1336.5"/><use href="#M3" x="1372"/></g>
<g id="MdhfPLATZ17" transform="translate(0,1214.8)"><text x="157" y="6.5">Mdhf PLATZ17</text><path class="l" d="M331 0H588M1297 0H1462"/><path class="c" d="M332-7h5v14h-5zM337-7h24v14h-24zM386-7h16v14h-16zM457-7h5v14h-5zM562-7h4v14h-4zM570-7h18v14h-18z"/><use href="#T" x="1335"/><use href="#M3" x="1437"/></g>
<g id="MdgPLATZ17" transform="translate(0,1234.4)"><text x="157" y="6.5">Mdg PLATZ17</text><path class="l" d="M331 0H582M1297 0H1528"/><path class="u" d="M332-7h7v14h-7zM472-7h1.5v14h-1.5zM569-7h13v14h-13z"/><path class="c" d="M339-7h6v14h-6zM353-7h16v14h-16zM396-7h16v14h-16zM466-7h6v14h-6z"/><use href="#T" x="1335"/><use href="#M3" x="1437"/></g>
<g id="MdPLATZ17" transform="translate(0,1254.1)"><text x="157" y="6.5">Md PLATZ17</text><path class="l" d="M331 0H391M1297 0H1443"/><path class="c" d="M332-7h17v14h-17zM374-7h17v14h-17z"/><use href="#M7" x="1305"/><use href="#T" x="1315.4"/><use href="#M3" x="1419"/></g>
<g id="MsyPLATZ17" transform="translate(0,1273.7)"><text x="157" y="6.5">Msy PLATZ17</text><path class="l" d="M331 0H412M1297 0H1431"/><path class="c" d="M332-7h7v14h-7zM352-7h17v14h-17zM396-7h16v14h-16z"/><use href="#M7" x="1305"/><use href="#T" x="1315.4"/><use href="#M3" x="1421.4"/></g>
<g id="MbPLATZ17" transform="translate(0,1293.4)"><text x="157" y="6.5">Mb PLATZ17</text><path class="l" d="M331 0H412M1297 0H1409"/><path class="c" d="M332-7h7v14h-7zM352-7h17v14h-17zM396-7h16v14h-16z"/><use href="#T" x="1297"/><use href="#M3" x="1399.4"/></g>
<g id="MsiPLATZ17" transform="translate(0,1313.1)"><text x="157" y="6.5">Msi PLATZ17</text><path class="l" d="M331 0H412M1297 0H1435"/><path class="c" d="M332-7h7v14h-7zM352-7h17v14h-17zM396-7h16v14h-16z"/><use href="#T" x="1323.6"/><use href="#M3" x="1426"/></g>
<g id="MsiPLATZ21" transform="translate(0,1332.7)"><text x="157" y="6.5">Msi PLATZ21</text><path class="l" d="M331 0H446M1297 0H1435"/><path class="u" d="M332-7h11v14h-11zM426-7h20v14h-20z"/><path class="c" d="M343-7h13v14h-13zM364-7h17v14h-17zM407-7h19v14h-19z"/><use href="#T" x="1323.6"/><use href="#M3" x="1426"/></g>
<g id="MdPLATZ9" transform="translate(0,1352.4)"><text x="157" y="6.5">Md PLATZ9</text><path class="l" d="M331 0H416M1297 0H1458"/><path class="c" d="M332-7h14v14h-14zM353-7h17v14h-17zM396-7h20v14h-20z"/><use href="#S" x="1298.4"/><use href="#M3" x="1448"/></g>
<g id="MdgPLATZ9" transform="translate(0,1372)"><text x="157" y="6.5">Mdg PLATZ9</text><path class="l" d="M331 0H415M1297 0H1458"/><path class="c" d="M332-7h13v14h-13zM353-7h16v14h-16zM396-7h19v14h-19z"/><use href="#S" x="1298.4"/><use href="#M3" x="1448"/></g>
<g id="MdhfPLATZ9" transform="translate(0,1391.7)"><text x="157" y="6.5">Mdhf PLATZ9</text><path class="l" d="M331 0H415M1297 0H1458"/><path class="c" d="M332-7h13v14h-13zM353-7h16v14h-16zM396-7h19v14h-19z"/><use href="#S" x="1298.4"/><use href="#M3" x="1448"/></g>
<g id="MbPLATZ9" transform="translate(0,1411.4)"><text x="157" y="6.5">Mb PLATZ9</text><path class="l" d="M331 0H415M1297 0H1458"/><path class="c" d="M332-7h13v14h-13zM353-7h16v14h-16zM396-7h19v14h-19z"/><use href="#S" x="1298.4"/><use href="#M3" x="1448"/></g>
<g id="MsiPLATZ9" transform="translate(0,1431)"><text x="157" y="6.5">Msi PLATZ9</text><path class="l" d="M331 0H416M1297 0H1458"/><path class="c" d="M332-7h14v14h-14zM353-7h17v14h-17zM396-7h20v14h-20z"/><use href="#S" x="1298.4"/><use href="#M3" x="1448"/></g>
<g id="MsyPLATZ9" transform="translate(0,1450.7)"><text x="157" y="6.5">Msy PLATZ9</text><path class="l" d="M331 0H496M1297 0H1458"/><path class="u" d="M332-7h12v14h-12zM449-7h47v14h-47z"/><path class="c" d="M352-7h15v14h-15zM386-7h16v14h-16zM435-7h14v14h-14z"/><use href="#S" x="1298.4"/><use href="#M3" x="1448"/></g>
<g id="MdPLATZ18" transform="translate(0,1470.3)"><text x="157" y="6.5">Md PLATZ18</text><path class="l" d="M331 0H429M1297 0H1446"/><path class="c" d="M332-7h14v14h-14zM365-7h17v14h-17zM415-7h14v14h-14z"/><use href="#S" x="1302"/><use href="#M3" x="1440"/></g>
<g id="MdgPLATZ18" transform="translate(0,1490)"><text x="157" y="6.5">Mdg PLATZ18</text><path class="l" d="M331 0H429M1297 0H1443"/><path class="c" d="M332-7h14v14h-14zM365-7h17v14h-17zM415-7h14v14h-14z"/><use href="#S" x="1298.4"/><use href="#M3" x="1434"/></g>
<g id="MsiPLATZ18" transform="translate(0,1509.7)"><text x="157" y="6.5">Msi PLATZ18</text><path class="l" d="M331 0H428M1297 0H1443"/><path class="c" d="M332-7h13v14h-13zM364-7h17v14h-17zM413-7h15v14h-15z"/><use href="#S" x="1298.4"/><use href="#M3" x="1434"/></g>
<g id="MbPLATZ18" transform="translate(0,1529.3)"><text x="157" y="6.5">Mb PLATZ18</text><path class="l" d="M331 0H428M1297 0H1443"/><path class="c" d="M332-7h13v14h-13zM364-7h17v14h-17zM413-7h15v14h-15z"/><use href="#S" x="1298.4"/><use href="#M3" x="1434"/></g>
<g id="MdhfPLATZ18" transform="translate(0,1549)"><text x="157" y="6.5">Mdhf PLATZ18</text><path class="l" d="M331 0H428M1297 0H1443"/><path class="c" d="M332-7h13v14h-13zM364-7h17v14h-17zM413-7h15v14h-15z"/><use href="#S" x="1298.4"/><use href="#M3" x="1434"/></g>
<g id="MsyPLATZ18" transform="translate(0,1568.6)"><text x="157" y="6.5">Msy PLATZ18</text><path class="l" d="M331 0H426M1297 0H1443"/><path class="c" d="M332-7h13v14h-13zM363-7h16v14h-16zM412-7h14v14h-14z"/><use href="#S" x="1298.4"/><use href="#M3" x="1434"/></g>
<g id="MsiPLATZ20" transform="translate(0,1588.3)"><text x="157" y="6.5">Msi PLATZ20</text><path class="l" d="M331 0H426M1297 0H1443"/><path class="c" d="M332-7h13v14h-13zM363-7h16v14h-16zM412-7h14v14h-14z"/><use href="#S" x="1298.4"/><use href="#M3" x="1434"/></g>
<g id="MbPLATZ20" transform="translate(0,1608)"><text x="157" y="6.5">Mb PLATZ20</text><path class="l" d="M331 0H426M1297 0H1443"/><path class="c" d="M332-7h13v14h-13zM363-7h16v14h-16zM412-7h14v14h-14z"/><use href="#S" x="1298.4"/><use href="#M3" x="1434"/></g>
<g id="MdhfPLATZ20" transform="translate(0,1627.6)"><text x="157" y="6.5">Mdhf PLATZ20</text><path class="l" d="M331 0H480M1297 0H1443"/><path class="u" d="M332-7h25v14h-25zM462-7h18v14h-18z"/><path class="c" d="M366-7h14v14h-14zM398-7h17v14h-17zM447-7h15v14h-15z"/><use href="#S" x="1298.4"/><use href="#M3" x="1434"/></g>
<g id="MsyPLATZ20" transform="translate(0,1647.3)"><text x="157" y="6.5">Msy PLATZ20</text><path class="l" d="M331 0H442M1297 0H1443"/><path class="c" d="M332-7h14v14h-14zM364-7h17v14h-17zM427-7h15v14h-15z"/><use href="#S" x="1298.4"/><use href="#M3" x="1434"/></g>
<g id="MdPLATZ20" transform="translate(0,1666.9)"><text x="157" y="6.5">Md PLATZ20</text><path class="l" d="M331 0H442M1297 0H1446"/><path class="c" d="M332-7h14v14h-14zM364-7h17v14h-17zM427-7h15v14h-15z"/><use href="#S" x="1302"/><use href="#M3" x="1436"/></g>
<g id="MdgPLATZ20" transform="translate(0,1686.6)"><text x="157" y="6.5">Mdg PLATZ20</text><path class="l" d="M331 0H463M1297 0H1443"/><path class="u" d="M332-7h14v14h-14zM440-7h23v14h-23z"/><path class="c" d="M355-7h13v14h-13zM376-7h17v14h-17zM428-7h12v14h-12z"/><use href="#S" x="1298.4"/><use href="#M3" x="1434"/></g>
<g id="AtPLATZ5" transform="translate(0,1706.3)"><text x="157" y="6.5">At PLATZ5</text><path class="l" d="M331 0H518M1297 0H1441"/><path class="u" d="M332-7h11v14h-11zM354-7h8v14h-8zM462-7h56v14h-56z"/><path class="c" d="M372-7h16v14h-16zM399-7h17v14h-17zM438-7h24v14h-24z"/><use href="#M2" x="1298.4"/><use href="#M7" x="1327.4"/><use href="#M1" x="1337.4"/><use href="#M5" x="1363.6"/><use href="#M6" x="1386.5"/><use href="#M4" x="1394.5"/><use href="#M3" x="1430.6"/></g>
<g id="MdPLATZ1" transform="translate(0,1725.9)"><text x="157" y="6.5">Md PLATZ1</text><path class="l" d="M331 0H637M1297 0H1488"/><path class="c" d="M347-7h11v14h-11zM362-7h2v14h-2zM384-7h19v14h-19zM414-7h16v14h-16zM453-7h23v14h-23zM582-7h11v14h-11zM628-7h9v14h-9z"/><use href="#S" x="1311"/><use href="#M3" x="1480"/></g>
<g id="MdhfPLATZ1" transform="translate(0,1745.6)"><text x="157" y="6.5">Mdhf PLATZ1</text><path class="l" d="M331 0H477M1297 0H1598"/><path class="c" d="M348-7h10v14h-10zM371-7h7v14h-7zM387-7h16v14h-16zM414-7h16v14h-16zM453-7h24v14h-24z"/><use href="#S" x="1362.6"/></g>
<g id="MsyPLATZ1" transform="translate(0,1765.2)"><text x="157" y="6.5">Msy PLATZ1</text><path class="l" d="M331 0H432M1297 0H1488"/><path class="c" d="M341-7h17v14h-17zM368-7h16v14h-16zM407-7h25v14h-25z"/><use href="#S" x="1311"/><use href="#M3" x="1480"/></g>
<g id="MdgPLATZ1" transform="translate(0,1784.9)"><text x="157" y="6.5">Mdg PLATZ1</text><path class="l" d="M331 0H432M1297 0H1545"/><path class="c" d="M343-7h17v14h-17zM371-7h17v14h-17zM407-7h25v14h-25z"/><use href="#S" x="1368.6"/><use href="#M3" x="1537"/></g>
<g id="MsiPLATZ1" transform="translate(0,1804.6)"><text x="157" y="6.5">Msi PLATZ1</text><path class="l" d="M331 0H507M1297 0H1488"/><path class="u" d="M332-7h45v14h-45zM476-7h31v14h-31z"/><path class="c" d="M385-7h17v14h-17zM412-7h17v14h-17zM451-7h25v14h-25z"/><use href="#S" x="1311"/><use href="#M3" x="1480"/></g>
<g id="MbPLATZ1" transform="translate(0,1824.2)"><text x="157" y="6.5">Mb PLATZ1</text><path class="l" d="M331 0H419M1297 0H1488"/><path class="c" d="M333-7h15v14h-15zM360-7h16v14h-16zM395-7h24v14h-24z"/><use href="#S" x="1311"/><use href="#M3" x="1480"/></g>
<g id="MsiPLATZ2" transform="translate(0,1843.9)"><text x="157" y="6.5">Msi PLATZ2</text><path class="l" d="M331 0H524M1297 0H1483"/><path class="u" d="M332-7h30v14h-30zM376-7h11v14h-11zM487-7h37v14h-37z"/><path class="c" d="M399-7h17v14h-17zM427-7h16v14h-16zM463-7h24v14h-24z"/><use href="#S" x="1306"/><use href="#M3" x="1474"/></g>
<g id="MdPLATZ2" transform="translate(0,1863.5)"><text x="157" y="6.5">Md PLATZ2</text><path class="l" d="M331 0H432M1297 0H1488"/><path class="c" d="M343-7h17v14h-17zM371-7h17v14h-17zM407-7h25v14h-25z"/><use href="#S" x="1311"/><use href="#M3" x="1480"/></g>
<g id="MdhfPLATZ2" transform="translate(0,1883.2)"><text x="157" y="6.5">Mdhf PLATZ2</text><path class="l" d="M331 0H432M1297 0H1488"/><path class="c" d="M343-7h17v14h-17zM371-7h17v14h-17zM407-7h25v14h-25z"/><use href="#S" x="1311"/><use href="#M3" x="1480"/></g>
<g id="MbPLATZ2" transform="translate(0,1902.9)"><text x="157" y="6.5">Mb PLATZ2</text><path class="l" d="M331 0H516M1297 0H1500"/><path class="c" d="M332-7h15v14h-15zM358-7h16v14h-16zM394-7h22v14h-22zM509-7h7v14h-7z"/><use href="#S" x="1306"/></g>
<g id="AtPLATZ8" transform="translate(0,1922.5)"><text x="157" y="6.5">At PLATZ8</text><path class="l" d="M331 0H404M1297 0H1460"/><path class="u" d="M396-7h8v14h-8z"/><path class="c" d="M332-7h14v14h-14zM353-7h17v14h-17zM376-7h20v14h-20z"/><use href="#S" x="1301.6"/><use href="#M3" x="1452"/></g>
<g id="AtPLATZ2" transform="translate(0,1942.2)"><text x="157" y="6.5">At PLATZ2</text><path class="l" d="M331 0H460M1297 0H1483"/><path class="u" d="M332-7h25v14h-25zM434-7h26v14h-26z"/><path class="c" d="M364-7h16v14h-16zM387-7h16v14h-16zM411-7h23v14h-23z"/><use href="#S" x="1308.5"/><use href="#M3" x="1474"/></g>
<g id="AtPLATZ1" transform="translate(0,1961.8)"><text x="157" y="6.5">At PLATZ1</text><path class="l" d="M331 0H472M1297 0H1483"/><path class="u" d="M332-7h24v14h-24zM444-7h28v14h-28z"/><path class="c" d="M362-7h16v14h-16zM384-7h16v14h-16zM420-7h24v14h-24z"/><use href="#S" x="1307.5"/><use href="#M3" x="1475"/></g>
<g id="AtPLATZ4" transform="translate(0,1981.5)"><text x="157" y="6.5">At PLATZ4</text><path class="l" d="M331 0H490M1297 0H1468"/><path class="u" d="M332-7h16v14h-16zM472-7h18v14h-18z"/><path class="c" d="M348-7h4v14h-4zM405-7h13v14h-13zM424-7h17v14h-17zM456-7h16v14h-16z"/><use href="#S" x="1316.7"/><use href="#M3" x="1459"/></g>
<g id="AtPLATZ11" transform="translate(0,2001.2)"><text x="157" y="6.5">At PLATZ11</text><path class="l" d="M331 0H512M1297 0H1468"/><path class="u" d="M332-7h21v14h-21zM478-7h34v14h-34z"/><path class="c" d="M353-7h4v14h-4zM401-7h15v14h-15zM422-7h17v14h-17zM461-7h17v14h-17z"/><use href="#S" x="1321"/><use href="#M3" x="1459"/></g>
<g id="AtPLATZ12" transform="translate(0,2020.8)"><text x="157" y="6.5">At PLATZ12</text><path class="l" d="M331 0H510M1297 0H1459"/><path class="u" d="M332-7h20v14h-20zM478-7h32v14h-32z"/><path class="c" d="M352-7h4v14h-4zM398-7h14v14h-14zM418-7h16v14h-16zM456-7h22v14h-22z"/><use href="#S" x="1304"/><use href="#M3" x="1445"/></g>
<g id="MsyPLATZ12" transform="translate(0,2040.5)"><text x="157" y="6.5">Msy PLATZ12</text><path class="l" d="M331 0H527M1297 0H1446"/><path class="u" d="M332-7h17v14h-17zM489-7h38v14h-38z"/><path class="c" d="M371-7h14v14h-14zM400-7h17v14h-17zM472-7h17v14h-17z"/><use href="#M5" x="1327"/><use href="#M6" x="1339"/><use href="#M4" x="1347"/></g>
<g id="MdPLATZ11" transform="translate(0,2060.1)"><text x="157" y="6.5">Md PLATZ11</text><path class="l" d="M331 0H484M1297 0H1468"/><path class="u" d="M332-7h17v14h-17zM449-7h35v14h-35z"/><path class="c" d="M363-7h15v14h-15zM389-7h17v14h-17zM429-7h20v14h-20z"/><use href="#S" x="1306"/><use href="#M3" x="1454.5"/></g>
<g id="MdhfPLATZ11" transform="translate(0,2079.8)"><text x="157" y="6.5">Mdhf PLATZ11</text><path class="l" d="M331 0H439M1297 0H1493.5"/><path class="c" d="M332-7h7v14h-7zM352-7h16v14h-16zM378-7h16v14h-16zM418-7h21v14h-21z"/><use href="#S" x="1331.4"/><use href="#M3" x="1480"/></g>
<g id="MsiPLATZ11" transform="translate(0,2099.5)"><text x="157" y="6.5">Msi PLATZ11</text><path class="l" d="M331 0H451M1297 0H1468"/><path class="u" d="M332-7h19v14h-19z"/><path class="c" d="M364-7h15v14h-15zM390-7h16v14h-16zM430-7h21v14h-21z"/><use href="#S" x="1306"/><use href="#M3" x="1454.5"/></g>
<g id="MdgPLATZ12" transform="translate(0,2119.1)"><text x="157" y="6.5">Mdg PLATZ12</text><path class="l" d="M331 0H442M1297 0H1468"/><path class="u" d="M332-7h10v14h-10z"/><path class="c" d="M356-7h15v14h-15zM381-7h16v14h-16zM421-7h21v14h-21z"/><use href="#S" x="1306"/><use href="#M3" x="1454.5"/></g>
<g id="MsyPLATZ11" transform="translate(0,2138.8)"><text x="157" y="6.5">Msy PLATZ11</text><path class="l" d="M331 0H472M1297 0H1468"/><path class="u" d="M332-7h30v14h-30zM462-7h10v14h-10z"/><path class="c" d="M375-7h14v14h-14zM400-7h17v14h-17zM441-7h21v14h-21z"/><use href="#S" x="1306"/><use href="#M3" x="1454.5"/></g>
<g id="MbPLATZ11" transform="translate(0,2158.4)"><text x="157" y="6.5">Mb PLATZ11</text><path class="l" d="M331 0H478M1297 0H1468"/><path class="u" d="M332-7h24v14h-24zM462-7h16v14h-16z"/><path class="c" d="M370-7h15v14h-15zM397-7h17v14h-17zM440-7h22v14h-22z"/><use href="#S" x="1306"/><use href="#M3" x="1454.5"/></g>
<g id="MsyPLATZ19" transform="translate(0,2178.1)"><text x="157" y="6.5">Msy PLATZ19</text><path class="l" d="M331 0H494M1297 0H1514"/><path class="u" d="M332-7h24v14h-24zM466-7h28v14h-28z"/><path class="c" d="M372-7h15v14h-15zM399-7h17v14h-17zM446-7h20v14h-20z"/><use href="#S" x="1354.4"/><use href="#M3" x="1499"/></g>
<g id="MbPLATZ19" transform="translate(0,2197.8)"><text x="157" y="6.5">Mb PLATZ19</text><path class="l" d="M331 0H500M1297 0H1466"/><path class="u" d="M332-7h20v14h-20zM463-7h37v14h-37z"/><path class="c" d="M368-7h15v14h-15zM396-7h17v14h-17zM444-7h19v14h-19z"/><use href="#S" x="1306"/><use href="#M3" x="1452"/></g>
<g id="MdPLATZ19" transform="translate(0,2217.4)"><text x="157" y="6.5">Md PLATZ19</text><path class="l" d="M331 0H454M1297 0H1466"/><path class="u" d="M332-7h11v14h-11z"/><path class="c" d="M359-7h15v14h-15zM387-7h17v14h-17zM435-7h19v14h-19z"/><use href="#S" x="1306"/><use href="#M3" x="1452"/></g>
<g id="MdgPLATZ19" transform="translate(0,2237.1)"><text x="157" y="6.5">Mdg PLATZ19</text><path class="l" d="M331 0H475M1297 0H1466"/><path class="c" d="M332-7h3v14h-3zM336-7h3v14h-3zM359-7h5v14h-5zM380-7h16v14h-16zM408-7h16v14h-16zM456-7h19v14h-19z"/><use href="#S" x="1306"/><use href="#M3" x="1452"/></g>
<g id="MdhfPLATZ19" transform="translate(0,2256.7)"><text x="157" y="6.5">Mdhf PLATZ19</text><path class="l" d="M331 0H475M1297 0H1499.5"/><path class="c" d="M332-7h3v14h-3zM336-7h3v14h-3zM359-7h5v14h-5zM380-7h16v14h-16zM408-7h16v14h-16zM456-7h19v14h-19z"/><use href="#S" x="1340.6"/><use href="#M3" x="1485"/></g>
<g id="MsiPLATZ19" transform="translate(0,2276.4)"><text x="157" y="6.5">Msi PLATZ19</text><path class="l" d="M331 0H463M1297 0H1466"/><path class="u" d="M332-7h20v14h-20z"/><path class="c" d="M368-7h16v14h-16zM397-7h16v14h-16zM444-7h19v14h-19z"/><use href="#S" x="1306"/><use href="#M3" x="1452"/></g>
</g>
<g id="axes" class="ax">
<path d="M331.5 2295H1239M331.5 2295v6M482.7 2295v6M633.9 2295v6M785.1 2295v6M936.3 2295v6M1087.5 2295v6M1238.7 2295v6M1297 2295H2000M1297 2295v6M1448.2 2295v6M1599.4 2295v6M1750.5 2295v6M1901.7 2295v6" stroke="#8a8a8a" stroke-width="2" fill="none"/>
<text x="322" y="2300">5'</text><text x="1248" y="2300">3'</text><text x="1288" y="2300">5'</text>
<text x="331.5" y="2318">0</text><text x="482.7" y="2318">2000</text><text x="633.9" y="2318">4000</text><text x="785.1" y="2318">6000</text><text x="936.3" y="2318">8000</text><text x="1087.5" y="2318">10000</text><text x="1238.7" y="2318">12000</text>
<text x="1297" y="2318">0</text><text x="1448.2" y="2318">200</text><text x="1599.4" y="2318">400</text><text x="1750.5" y="2318">600</text><text x="1901.7" y="2318">800</text>
</g>
<g id="legend" class="lg">
<rect x="1873" y="13.5" width="49" height="21" fill="url(#k2)" stroke="#bbb"/><text x="1927" y="30.5">Motif 2</text>
<rect x="1873" y="39.3" width="49" height="21" fill="url(#k7)" stroke="#bbb"/><text x="1927" y="56.3">Motif 7</text>
<rect x="1873" y="65" width="49" height="21" fill="url(#k1)" stroke="#bbb"/><text x="1927" y="82">Motif 1</text>
<rect x="1873" y="91" width="49" height="21" fill="url(#k5)" stroke="#bbb"/><text x="1927" y="108">Motif 5</text>
<rect x="1873" y="117" width="49" height="21" fill="url(#k6)" stroke="#bbb"/><text x="1927" y="134">Motif 6</text>
<rect x="1873" y="142.6" width="49" height="21" fill="url(#k4)" stroke="#bbb"/><text x="1927" y="159.6">Motif 4</text>
<rect x="1873" y="169" width="49" height="21" fill="url(#k3)" stroke="#bbb"/><text x="1927" y="186">Motif 3</text>
<rect x="1873" y="194.5" width="49" height="21" fill="url(#k8)" stroke="#bbb"/><text x="1927" y="211.5">Motif 8</text>
<rect x="1873" y="262" width="49" height="21" fill="url(#gc)" stroke="#bbb"/><text x="1927" y="279">CDS</text>
<rect x="1873" y="288" width="49" height="21" fill="url(#gu)" stroke="#bbb"/><text x="1927" y="305">UTR</text>
</g>
</svg>
